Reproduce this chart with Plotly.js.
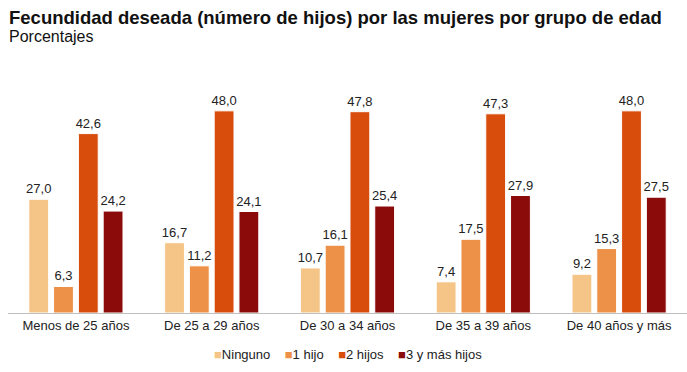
<!DOCTYPE html>
<html><head><meta charset="utf-8">
<script src="https://cdn.plot.ly/plotly-3.0.1.min.js"></script>
<style>body{margin:0;background:#fff}#c{width:687px;height:372px}</style>
</head><body><div id="c"></div>
<script>
const categories = ["Menos de 25 años","De 25 a 29 años","De 30 a 34 años","De 35 a 39 años","De 40 años y más"];
const seriesNames = ["Ninguno","1 hijo","2 hijos","3 y más hijos"];
const ninguno = [27.0,16.7,10.7,7.4,9.2];
const unHijo = [6.3,11.2,16.1,17.5,15.3];
const dosHijos = [42.6,48.0,47.8,47.3,48.0];
const tresMas = [24.2,24.1,25.4,27.9,27.5];
const colors = ["#F5C587","#EC9147","#D84C0C","#8B0A0A"];
const vals = [ninguno,unHijo,dosHijos,tresMas];
const fmt = v => v.toFixed(1).replace('.', ',');
const FONT = 'Liberation Sans, Arial, sans-serif';
const traces = vals.map((v,i)=>({
  type:'bar', name:seriesNames[i], x:categories, y:v,
  marker:{color:colors[i], line:{color:'#fff', width:1}},
  text:v.map(fmt), textposition:'outside', cliponaxis:false, constraintext:'none',
  textfont:{family:FONT, size:13, color:'#222'},
  hoverinfo:'none', showlegend:false
}));
const plotH = 372-70-59;
const legendText = seriesNames.map((n,i)=>`<span style="color:${colors[i]}">■</span>${n}`).join('    ');
const layout = {
  width:687, height:372,
  margin:{l:8, r:0, t:70, b:59},
  paper_bgcolor:'#fff', plot_bgcolor:'#fff',
  barmode:'group', bargap:0.27, bargroupgap:0.2,
  font:{family:FONT, color:'#222'},
  xaxis:{showline:true, linecolor:'#bfbfbf', linewidth:1, ticks:'', tickfont:{size:13, color:'#222'}, fixedrange:true},
  yaxis:{range:[0,57.7], visible:false, showgrid:false, zeroline:false},
  showlegend:false,
  annotations:[
    {text:'<b>Fecundidad deseada (número de hijos) por las mujeres por grupo de edad</b>', xref:'paper', yref:'paper', x:0, y:1 + (70-5)/plotH, xanchor:'left', yanchor:'top', xshift:-1, showarrow:false, font:{size:18.5, color:'#111'}},
    {text:'Porcentajes', xref:'paper', yref:'paper', x:0, y:1 + (70-26)/plotH, xanchor:'left', yanchor:'top', xshift:-1, showarrow:false, font:{size:16, color:'#111'}},
    {text:legendText, xref:'paper', yref:'paper', x:0.5, y:-(354-313)/plotH, xanchor:'center', yanchor:'middle', showarrow:false, font:{size:13, color:'#222'}}
  ]
};
Plotly.newPlot('c', traces, layout, {displayModeBar:false, staticPlot:true});
</script></body></html>
